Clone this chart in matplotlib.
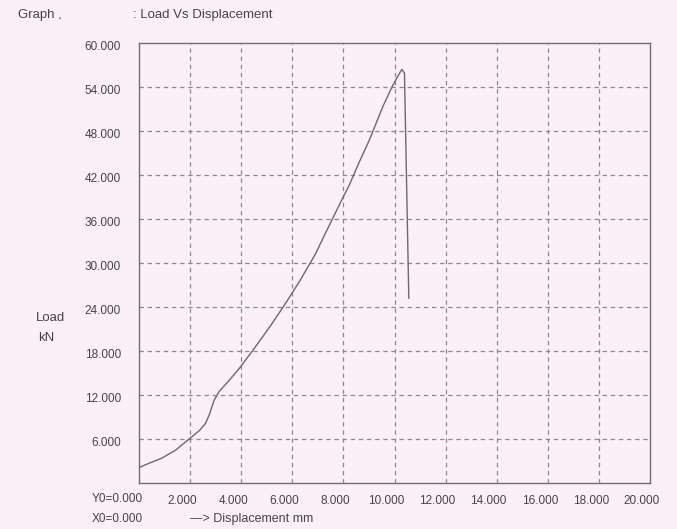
import matplotlib
matplotlib.use("Agg")
import matplotlib.pyplot as plt
import matplotlib.transforms as mtransforms
import numpy as np

# load-displacement trace
displacement = [0.0, 0.4, 0.9, 1.44, 1.96, 2.35, 2.6, 2.75, 2.94, 3.14, 3.53, 3.92,
                4.5, 5.1, 5.7, 6.3, 6.9, 7.4, 7.85, 8.24, 8.6, 9.02, 9.54, 9.9,
                10.15, 10.29, 10.39, 10.56]
load = [2.1, 2.7, 3.4, 4.5, 6.0, 7.1, 8.1, 9.3, 11.3, 12.5, 14.0, 15.6,
        18.3, 21.2, 24.3, 27.6, 31.2, 34.8, 38.0, 40.7, 43.6, 46.8, 51.3, 54.0,
        55.6, 56.4, 55.9, 25.2]

x_ticks = [2, 4, 6, 8, 10, 12, 14, 16, 18, 20]
x_tick_labels = ["2.000", "4.000", "6.000", "8.000", "10.000", "12.000",
                 "14.000", "16.000", "18.000", "20.000"]
y_ticks = [6, 12, 18, 24, 30, 36, 42, 48, 54, 60]
y_tick_labels = ["6.000", "12.000", "18.000", "24.000", "30.000", "36.000",
                 "42.000", "48.000", "54.000", "60.000"]

W, H = 677, 529
BG = "#fbf0f8"
INK = "#454545"
FONT = ["Liberation Sans Narrow", "Liberation Sans", "DejaVu Sans"]

plt.rcParams["font.family"] = FONT

fig = plt.figure(figsize=(W / 100, H / 100), dpi=100, facecolor=BG)
ax = fig.add_axes([139 / W, 1 - 483 / H, (650 - 139) / W, (483 - 43) / H])
ax.set_facecolor(BG)

ax.set_xlim(0, 20)
ax.set_ylim(0, 60)

# dashed grid
for xv in x_ticks[:-1]:
    ax.axvline(xv, color="#8a8a8a", lw=0.9, ls=(0, (3.5, 3)), zorder=1)
for yv in y_ticks[:-1]:
    ax.axhline(yv, color="#8a8a8a", lw=0.9, ls=(0, (3.5, 3)), zorder=1)

ax.plot(displacement, load, color="#6a6a6a", lw=1.0, zorder=3)

for s in ax.spines.values():
    s.set_color("#707070")
    s.set_linewidth(1.0)

ax.set_xticks(x_ticks)
ax.set_xticklabels(x_tick_labels, fontsize=8.5, color=INK)
ax.set_yticks(y_ticks)
ax.set_yticklabels(y_tick_labels, fontsize=8.5, color=INK)
ax.tick_params(axis="both", length=0)
ax.tick_params(axis="x", pad=9)
ax.tick_params(axis="y", pad=13)

# x labels sit slightly left of their gridlines on the printout
shift = mtransforms.ScaledTranslation(-8 / 100, 0, fig.dpi_scale_trans)
for lab in ax.get_xticklabels():
    lab.set_transform(lab.get_transform() + shift)
# y labels sit a little below their gridlines
yshift = mtransforms.ScaledTranslation(0, -3 / 100, fig.dpi_scale_trans)
for lab in ax.get_yticklabels():
    lab.set_transform(lab.get_transform() + yshift)


def px_text(x, y, s, **kw):
    fig.text(x / W, 1 - y / H, s, color=INK, va="center", **kw)


px_text(18, 15, "Graph ,", fontsize=9.5)
px_text(133, 15, ": Load Vs Displacement", fontsize=9.5)
px_text(36, 318, "Load", fontsize=9.5)
px_text(38, 338, "kN", fontsize=9.5)
px_text(92, 499, "Y0=0.000", fontsize=8.5)
px_text(92, 519, "X0=0.000", fontsize=8.5)
px_text(190, 519, "\u2014> Displacement mm", fontsize=9)

fig.savefig("out.png", dpi=100, facecolor=BG)
